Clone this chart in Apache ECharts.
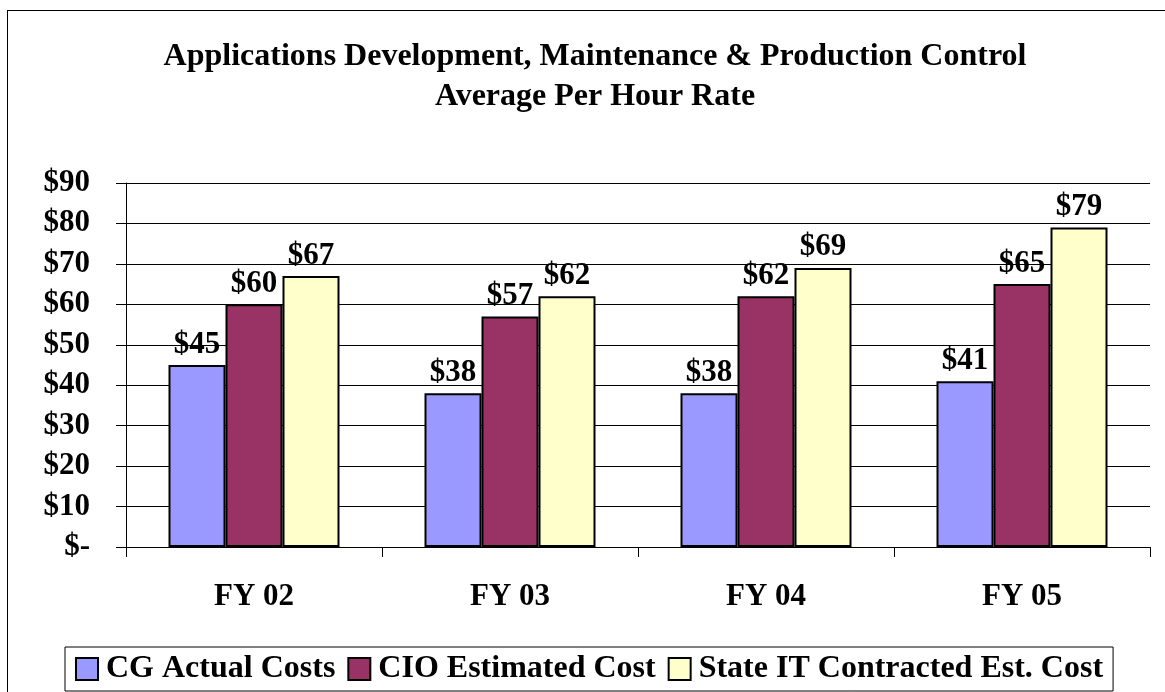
<!DOCTYPE html>
<html>
<head>
<meta charset="utf-8">
<script src="https://cdn.jsdelivr.net/npm/echarts@6/dist/echarts.min.js"></script>
<style>
  html, body { margin: 0; padding: 0; background: #fff; }
  #frame {
    position: absolute; left: 7px; top: 10px; width: 1165px; height: 700px;
    border-left: 1px solid #000; border-top: 1px solid #000;
  }
  #chart { position: absolute; left: 0; top: 0; width: 1165px; height: 692px; }
</style>
</head>
<body>
<div id="frame"></div>
<div id="chart"></div>
<script>
const categories = ['FY 02', 'FY 03', 'FY 04', 'FY 05']
const cgActual = [45, 38, 38, 41]
const cioEstimated = [60, 57, 62, 65]
const stateContracted = [67, 62, 69, 79]
const seriesNames = ['CG Actual Costs', 'CIO Estimated Cost', 'State IT Contracted Est. Cost']
const seriesColors = ['#9999ff', '#993366', '#ffffcc']

const serif = '"Liberation Serif", "DejaVu Serif", serif'
const chart = echarts.init(document.getElementById('chart'))

const seriesData = [cgActual, cioEstimated, stateContracted]

chart.setOption({
  animation: false,
  title: {
    text: 'Applications Development, Maintenance & Production Control\nAverage Per Hour Rate',
    left: 590,
    top: 32,
    textAlign: 'center',
    textStyle: { fontFamily: serif, fontWeight: 'bold', fontSize: 32, lineHeight: 40, color: '#000' }
  },
  grid: { left: 126, right: 15, top: 183, bottom: 145 },
  legend: {
    bottom: 1,
    left: 65,
    itemWidth: 22,
    itemHeight: 22,
    itemGap: 12,
    padding: [6, 10, 6, 10],
    borderColor: '#000',
    borderWidth: 1,
    icon: 'rect',
    textStyle: { fontFamily: serif, fontWeight: 'bold', fontSize: 32, color: '#000', padding: [0, 0, 0, 3] },
    itemStyle: { borderColor: '#000', borderWidth: 2 },
    data: seriesNames
  },
  xAxis: {
    type: 'category',
    data: categories,
    axisLine: { lineStyle: { color: '#000', width: 1 } },
    axisTick: { show: true, length: 10, lineStyle: { color: '#000' } },
    axisLabel: { fontFamily: serif, fontWeight: 'bold', fontSize: 31, color: '#000', margin: 34 }
  },
  yAxis: {
    type: 'value',
    min: 0,
    max: 90,
    interval: 10,
    axisLine: { show: true, lineStyle: { color: '#000', width: 1 } },
    axisTick: { show: true, length: 10, lineStyle: { color: '#000' } },
    axisLabel: {
      fontFamily: serif, fontWeight: 'bold', fontSize: 31, color: '#000', margin: 36,
      formatter: v => v === 0 ? '$-' : '$' + v
    },
    splitLine: { lineStyle: { color: '#000', width: 1 } }
  },
  series: seriesNames.map((name, i) => ({
    name,
    type: 'bar',
    data: seriesData[i],
    barWidth: 57,
    barGap: '0%',
    itemStyle: { color: seriesColors[i], borderColor: '#000', borderWidth: 2 },
    label: {
      show: true,
      position: 'top',
      distance: 5,
      formatter: p => '$' + p.value,
      fontFamily: serif, fontWeight: 'bold', fontSize: 31, color: '#000'
    }
  }))
})
</script>
</body>
</html>
